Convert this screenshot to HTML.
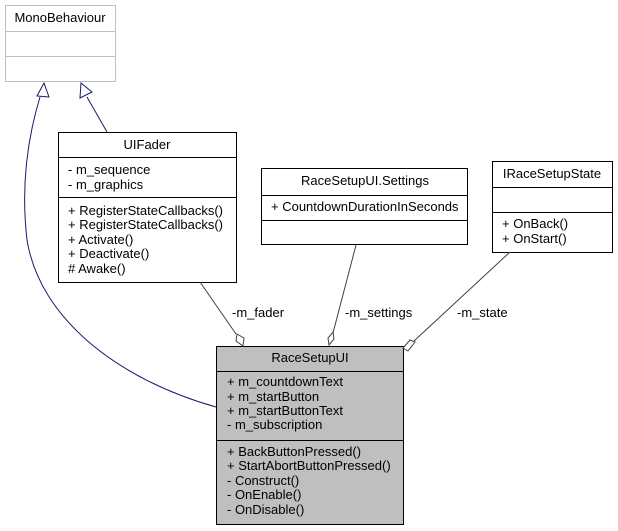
<!DOCTYPE html>
<html><head><meta charset="utf-8"><style>
html,body{margin:0;padding:0;background:#fff;}
svg{display:block;}
text{font-family:"Liberation Sans",Arial,sans-serif;font-size:13px;fill:#000;}
</style></head><body>
<svg width="618" height="531" viewBox="0 0 618 531" xmlns="http://www.w3.org/2000/svg">
<!-- MonoBehaviour -->
<rect x="5.5" y="5.5" width="110" height="76" fill="#fff" stroke="#bfbfbf"/>
<line x1="5.5" y1="31.5" x2="115.5" y2="31.5" stroke="#bfbfbf"/>
<line x1="5.5" y1="56.5" x2="115.5" y2="56.5" stroke="#bfbfbf"/>
<text x="60" y="22" text-anchor="middle">MonoBehaviour</text>

<!-- UIFader -->
<rect x="58.5" y="132.5" width="178" height="150" fill="#fff" stroke="#000"/>
<line x1="58.5" y1="157.5" x2="236.5" y2="157.5" stroke="#000"/>
<line x1="58.5" y1="197.5" x2="236.5" y2="197.5" stroke="#000"/>
<text x="147" y="149" text-anchor="middle">UIFader</text>
<text x="68" y="174">- m_sequence</text>
<text x="68" y="189">- m_graphics</text>
<text x="68" y="215">+ RegisterStateCallbacks()</text>
<text x="68" y="229">+ RegisterStateCallbacks()</text>
<text x="68" y="244">+ Activate()</text>
<text x="68" y="258">+ Deactivate()</text>
<text x="68" y="273"># Awake()</text>

<!-- Settings -->
<rect x="261.5" y="168.5" width="206" height="76" fill="#fff" stroke="#000"/>
<line x1="261.5" y1="195.5" x2="467.5" y2="195.5" stroke="#000"/>
<line x1="261.5" y1="220.5" x2="467.5" y2="220.5" stroke="#000"/>
<text x="365" y="185" text-anchor="middle">RaceSetupUI.Settings</text>
<text x="271" y="211">+ CountdownDurationInSeconds</text>

<!-- IRaceSetupState -->
<rect x="492.5" y="161.5" width="120" height="91" fill="#fff" stroke="#000"/>
<line x1="492.5" y1="187.5" x2="612.5" y2="187.5" stroke="#000"/>
<line x1="492.5" y1="212.5" x2="612.5" y2="212.5" stroke="#000"/>
<text x="552" y="178" text-anchor="middle">IRaceSetupState</text>
<text x="502" y="228">+ OnBack()</text>
<text x="502" y="243">+ OnStart()</text>

<!-- RaceSetupUI -->
<rect x="216.5" y="346.5" width="187" height="178" fill="#bfbfbf" stroke="#000"/>
<line x1="216.5" y1="371.5" x2="403.5" y2="371.5" stroke="#000"/>
<line x1="216.5" y1="440.5" x2="403.5" y2="440.5" stroke="#000"/>
<text x="310" y="362" text-anchor="middle">RaceSetupUI</text>
<text x="227" y="386">+ m_countdownText</text>
<text x="227" y="401">+ m_startButton</text>
<text x="227" y="415">+ m_startButtonText</text>
<text x="227" y="429">- m_subscription</text>
<text x="227" y="456">+ BackButtonPressed()</text>
<text x="227" y="470">+ StartAbortButtonPressed()</text>
<text x="227" y="485">- Construct()</text>
<text x="227" y="499">- OnEnable()</text>
<text x="227" y="514">- OnDisable()</text>

<!-- Inheritance edges -->
<line x1="107" y1="132" x2="87" y2="97" stroke="#191970"/>
<polygon points="81,83 80,98 92,92" fill="#fff" stroke="#191970"/>
<path d="M216,407 C120,380 40,320 27,240 C20,180 30,130 40,97" fill="none" stroke="#191970"/>
<polygon points="44,83 37,96 49,97" fill="#fff" stroke="#191970"/>

<!-- Aggregations -->
<line x1="200" y1="282" x2="236" y2="334" stroke="#404040"/>
<polygon points="243,346 244,338 237,334 236,341" fill="#fff" stroke="#404040"/>
<text x="232" y="317">-m_fader</text>

<line x1="356" y1="245" x2="333" y2="333" stroke="#404040"/>
<polygon points="329,345 334,339 333,332 328,338" fill="#fff" stroke="#404040"/>
<text x="345" y="317">-m_settings</text>

<line x1="510" y1="252" x2="414" y2="341" stroke="#404040"/>
<polygon points="403,348 408,351 415,342 410,340" fill="#fff" stroke="#404040"/>
<text x="457" y="317">-m_state</text>
</svg>
</body></html>
